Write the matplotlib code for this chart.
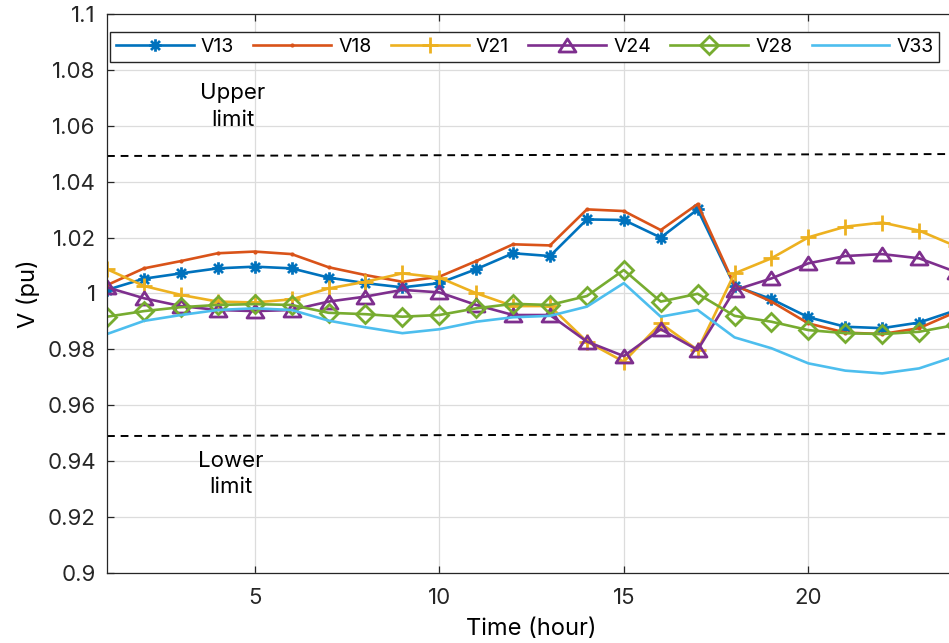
import matplotlib
matplotlib.use("Agg")
import matplotlib.pyplot as plt
from matplotlib.path import Path
from matplotlib.ticker import FormatStrFormatter, MultipleLocator

plt.rcParams['font.family'] = ['Inter', 'DejaVu Sans']

# bus voltages over one day (pu)
hours = list(range(1, 25))
v13 = [1.0013, 1.0053, 1.0072, 1.0090, 1.0096, 1.0090, 1.0057, 1.0037, 1.0022, 1.0037,
       1.0087, 1.0144, 1.0134, 1.0265, 1.0263, 1.0200, 1.0301, 1.0027, 0.9980, 0.9915,
       0.9881, 0.9876, 0.9896, 0.9940]
v18 = [1.0030, 1.0090, 1.0116, 1.0144, 1.0150, 1.0141, 1.0094, 1.0066, 1.0042, 1.0060,
       1.0116, 1.0176, 1.0172, 1.0301, 1.0295, 1.0227, 1.0320, 1.0030, 0.9971, 0.9893,
       0.9860, 0.9855, 0.9876, 0.9934]
v21 = [1.0087, 1.0027, 0.9995, 0.9971, 0.9968, 0.9979, 1.0018, 1.0042, 1.0072, 1.0057,
       1.0001, 0.9955, 0.9955, 0.9828, 0.9756, 0.9893, 0.9798, 1.0072, 1.0126, 1.0201,
       1.0239, 1.0254, 1.0225, 1.0169]
v24 = [1.0022, 0.9983, 0.9955, 0.9941, 0.9937, 0.9941, 0.9971, 0.9989, 1.0013, 1.0004,
       0.9959, 0.9923, 0.9923, 0.9828, 0.9776, 0.9872, 0.9798, 1.0012, 1.0054, 1.0108,
       1.0134, 1.0141, 1.0126, 1.0077]
v28 = [0.9917, 0.9937, 0.9951, 0.9959, 0.9962, 0.9959, 0.9931, 0.9926, 0.9917, 0.9923,
       0.9947, 0.9963, 0.9959, 0.9991, 1.0084, 0.9971, 0.9999, 0.9920, 0.9899, 0.9869,
       0.9858, 0.9855, 0.9863, 0.9888]
v33 = [0.9855, 0.9902, 0.9923, 0.9941, 0.9947, 0.9941, 0.9903, 0.9879, 0.9858, 0.9872,
       0.9899, 0.9915, 0.9920, 0.9953, 1.0037, 0.9917, 0.9941, 0.9843, 0.9804, 0.9750,
       0.9724, 0.9714, 0.9732, 0.9776]

upper_lim = [1.0492, 1.0499]
lower_lim = [0.9490, 0.9498]
lim_x = [1, 24]

# slightly wide marker shapes (MATLAB-like)
W = 1.3
tri = Path([(0, 1), (-W, -1), (W, -1), (0, 1)], closed=True)
M, L = Path.MOVETO, Path.LINETO
star = Path([(0, 1), (0, -1), (-1, 0), (1, 0), (-0.72, 0.72), (0.72, -0.72),
             (-0.72, -0.72), (0.72, 0.72)], [M, L, M, L, M, L, M, L])

fig = plt.figure(figsize=(9.49, 6.43), dpi=100)
ax = fig.add_axes([0.1128, 0.1089, 0.8946, 0.8693])

lw = 1.9
ax.plot(hours, v13, color='#0072BD', lw=lw, marker=star, ms=9, mew=2.0, mfc='none', label='V13')
ax.plot(hours, v18, color='#D95319', lw=lw, marker='.', ms=4, label='V18')
ax.plot(hours, v21, color='#EDB120', lw=lw, marker='+', ms=11.5, mew=2.0, label='V21')
ax.plot(hours, v24, color='#7E2F8E', lw=lw, marker=tri, ms=12.2, mew=2.0, mfc='none', label='V24')
ax.plot(hours, v28, color='#77AC30', lw=lw, marker='D', ms=9, mew=2.0, mfc='none', label='V28')
ax.plot(hours, v33, color='#4DBEEE', lw=lw, label='V33')

# voltage limits
ax.plot(lim_x, upper_lim, color='black', ls=(0, (4, 3)), lw=1.4)
ax.plot(lim_x, lower_lim, color='black', ls=(0, (4, 3)), lw=1.4)
ax.text(4.4, 1.0669, 'Upper\nlimit', ha='center', va='center', fontsize=16, linespacing=1.4)
ax.text(4.35, 0.9355, 'Lower\nlimit', ha='center', va='center', fontsize=16, linespacing=1.4)

ax.set_xlim(1, 24)
ax.set_ylim(0.9, 1.1)
ax.xaxis.set_major_locator(MultipleLocator(5))
ax.yaxis.set_major_locator(MultipleLocator(0.02))
ax.yaxis.set_major_formatter(FormatStrFormatter('%g'))
ax.grid(True, color='#dcdcdc', lw=0.9)
ax.set_axisbelow(True)
ax.tick_params(direction='in', top=True, right=True, length=5, width=0.9,
               labelsize=16, colors='#262626')
ax.tick_params(axis='x', pad=11)
ax.tick_params(axis='y', pad=8)
for s in ax.spines.values():
    s.set_color('#262626')
    s.set_linewidth(0.9)

ax.set_xlabel('Time (hour)', fontsize=17, labelpad=7)
ax.set_ylabel('V (pu)', fontsize=17, labelpad=5)

leg = ax.legend(loc='upper left', bbox_to_anchor=(0.0035, 0.968), ncol=6, fontsize=14,
                handlelength=4.0, handletextpad=0.36, columnspacing=1.0,
                borderpad=0.3, borderaxespad=0, fancybox=False, framealpha=1)
leg.get_frame().set_edgecolor('#262626')
leg.get_frame().set_linewidth(1.0)

fig.savefig('out.png', dpi=100)
